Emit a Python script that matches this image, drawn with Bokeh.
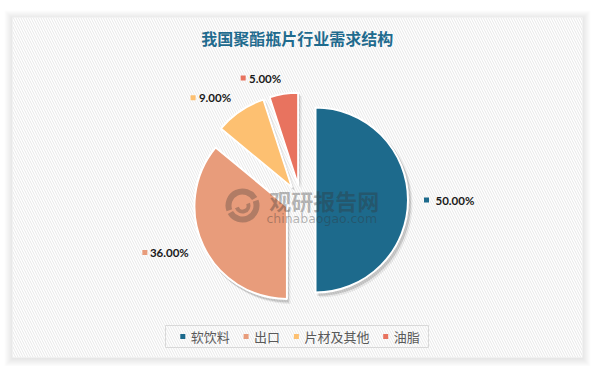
import numpy as np
from bokeh.plotting import figure
from bokeh.models import Range1d, ColumnDataSource
from bokeh.core.properties import value
from bokeh.embed import file_html
from bokeh.resources import INLINE

# ---------------- data ----------------
title = "我国聚酯瓶片行业需求结构"
categories = ["软饮料", "出口", "片材及其他", "油脂"]
shares = [50.0, 36.0, 9.0, 5.0]
colors = ["#1D6A8C", "#E89C7B", "#FDC071", "#E8735F"]
watermark_cn = "观研报告网"
watermark_en = "chinabaogao.com"

# ---------------- canvas ----------------
W, H = 592, 366
OX, OY = 0, 0


def fx(X):  # page px -> data x
    return X - OX


def fy(Y):  # page px -> data y (y up)
    return H + OY - Y


p = figure(width=W, height=H, x_range=Range1d(0, W), y_range=Range1d(0, H),
           output_backend="svg", toolbar_location=None, min_border=0,
           x_axis_location=None, y_axis_location=None)
p.grid.visible = False
p.outline_line_color = None
p.background_fill_color = "white"
p.border_fill_color = "white"

# panel with soft shadow and diagonal hatch
px0, py0, px1, py1 = 12, 17, 582, 357
pcx, pcy = fx((px0 + px1) / 2), fy((py0 + py1) / 2)
pw, ph = px1 - px0, py1 - py0
for k in range(8, 0, -1):
    p.rect(pcx, pcy - 1, pw + 2 * k, ph + 2 * k, fill_color="#000000",
           fill_alpha=0.012, line_color=None)
p.rect(pcx, pcy, pw, ph, fill_color="white", line_color=None,
       hatch_pattern="\\", hatch_color="#E8E8E8", hatch_scale=5, hatch_weight=1)

# title
p.text(x=[fx(296.7)], y=[fy(37.5)], text=[title],
       text_font=value("Noto Sans CJK SC"), text_font_style="bold",
       text_font_size="16px", text_color="#1F6B8E",
       text_align="center", text_baseline="middle")

# ---------------- pie ----------------
frac = np.array(shares) / sum(shares)
cum = np.concatenate([[0.0], np.cumsum(frac)])
start = np.pi / 2 - 2 * np.pi * cum[:-1]
end = np.pi / 2 - 2 * np.pi * cum[1:]
mid = (start + end) / 2
CX, CY = fx(300), fy(199.5)
R, EXPL = 92.5, 15
sx = CX + EXPL * np.cos(mid)
sy = CY + EXPL * np.sin(mid)

src = ColumnDataSource(dict(x=sx, y=sy, s=start, e=end, c=colors))
for dx, dy, a in [(3.5, -4.0, 0.07), (2.0, -2.5, 0.14)]:
    sh = ColumnDataSource(dict(x=sx + dx, y=sy + dy, s=start, e=end))
    p.wedge(x="x", y="y", radius=R + 1, start_angle="s", end_angle="e",
            direction="clock", source=sh, fill_color="#000000", fill_alpha=a,
            line_color=None)
p.wedge(x="x", y="y", radius=R, start_angle="s", end_angle="e",
        direction="clock", source=src, fill_color="c", line_color="white",
        line_width=2)

# watermark
WX, WY = fx(242), fy(205)
for s_, e_, ri, ro in [(30, 200, 11, 17), (210, 380, 11, 17), (200, 380, 4, 8)]:
    p.annular_wedge(x=WX, y=WY, inner_radius=ri, outer_radius=ro,
                    start_angle=np.radians(s_), end_angle=np.radians(e_),
                    fill_color="#333333", fill_alpha=0.3, line_color=None)
p.text(x=[fx(323.8)], y=[fy(199)], text=[watermark_cn],
       text_font=value("Noto Sans CJK SC"), text_font_style="bold",
       text_font_size="22px", text_color="#333333", text_alpha=0.35,
       text_align="center", text_baseline="middle")
p.text(x=[fx(321.3)], y=[fy(218.3)], text=[watermark_en],
       text_font=value("DejaVu Sans"), text_font_size="12.5px",
       text_color="#333333", text_alpha=0.35,
       text_align="center", text_baseline="middle")

# data labels
LD = R + 16
ax = sx + LD * np.cos(mid)
ay = sy + LD * np.sin(mid)
labels = [f"{v:.2f}%" for v in shares]
CHW = 5.9
for i, lab in enumerate(labels):
    if np.cos(mid[i]) >= 0:
        mx, tx, al = ax[i] + 2.5, ax[i] + 11.5, "left"
    else:
        mx, tx, al = ax[i] - len(lab) * CHW - 8.5, ax[i], "right"
    p.scatter(x=[mx], y=[ay[i]], marker="square", size=5,
              fill_color=colors[i], line_color=None)
    p.text(x=[tx], y=[ay[i]], text=[lab], text_font=value("Lato"),
           text_font_style="bold", text_font_size="11.5px",
           text_color="#1A1A1A", text_align=al, text_baseline="middle")

# legend
lx0, lx1, ly0, ly1 = 165, 428, 325, 347
p.rect(fx((lx0 + lx1) / 2), fy((ly0 + ly1) / 2), lx1 - lx0, ly1 - ly0,
       fill_color=None, line_color="#D9D9D9", line_width=1)
x = 180.0
LYc = fy(336)
for cat, col in zip(categories, colors):
    p.scatter(x=[fx(x + 2.3)], y=[LYc], marker="square", size=5,
              fill_color=col, line_color=None)
    p.text(x=[fx(x + 10.3)], y=[LYc], text=[cat],
           text_font=value("Noto Sans CJK SC"), text_font_size="13px",
           text_color="#595959", text_align="left", text_baseline="middle")
    x += 10.3 + 13 * len(cat) + 14

open("out.html", "w").write(file_html(p, INLINE))
